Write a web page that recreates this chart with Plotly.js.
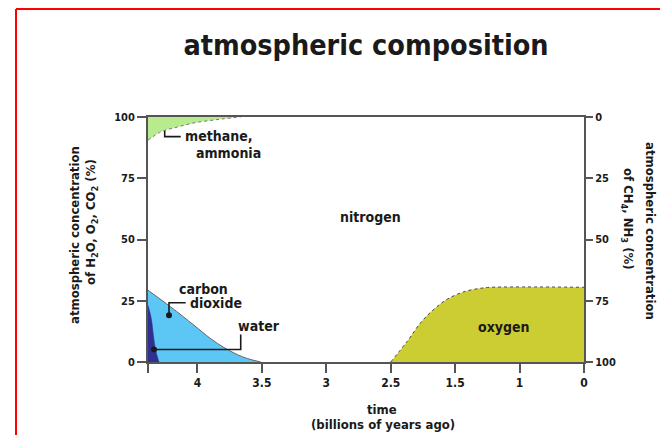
<!DOCTYPE html>
<html>
<head>
<meta charset="utf-8">
<script src="https://cdn.plot.ly/plotly-3.0.1.min.js"></script>
<style>
  html, body { margin: 0; padding: 0; background: #fff; }
  #chart { width: 660px; height: 435px; }
</style>
</head>
<body>
<div id="chart"></div>
<script>
// x values are positions along the (non-uniform) time axis; tick i sits at position i
const tickPos    = [-0.767, 0, 1, 2, 3, 4, 5, 6];
const tickLabels = ['', '4', '3.5', '3', '2.5', '1.5', '1', '0'];

// methane + ammonia (right axis, % CH4/NH3, measured downward from top)
const methaneX = [-0.767, -0.57, -0.311, -0.053, 0.207, 0.413, 0.672];
const methaneY = [9.5, 6.1, 4.1, 2.4, 1.4, 0.7, 0];

// carbon dioxide (left axis %)
const co2X = [-0.767, -0.415, -0.053, 0.207, 0.413, 0.621, 0.776, 0.983];
const co2Y = [29.3, 22.5, 15.0, 9.5, 5.9, 3.0, 1.4, 0];

// water (left axis %)
const waterX = [-0.767, -0.715, -0.683, -0.648, -0.596];
const waterY = [23.2, 17.7, 10.9, 4.8, 0];

// oxygen (left axis %)
const oxygenX = [3.0, 3.261, 3.467, 3.674, 3.882, 4.14, 4.399, 4.553, 6.0];
const oxygenY = [0, 8.6, 16.1, 21.6, 25.7, 28.7, 30.1, 30.5, 30.5];

// label leader lines (dot first)
const methanePtrX = [-0.508, -0.508, -0.259];
const methanePtrY = [97.8, 92.0, 92.0];
const co2PtrX = [-0.441, -0.441, -0.182];
const co2PtrY = [19.1, 24.2, 24.2];
const waterPtrX = [-0.674, 0.672, 0.672];
const waterPtrY = [5.1, 5.1, 11.2];

const yTicks = [0, 25, 50, 75, 100];
const y2Ticks = [0, 25, 50, 75, 100];

const FONT = 'Liberation Sans Narrow, DejaVu Sans Condensed, Arial Narrow, sans-serif';
const INK = '#1a1a1a';
const AXIS = '#555555';

function pointer(xs, ys) {
  return [
    { x: xs, y: ys, type: 'scatter', mode: 'lines', line: { color: INK, width: 1.6 },
      hoverinfo: 'skip', showlegend: false },
    { x: [xs[0]], y: [ys[0]], type: 'scatter', mode: 'markers',
      marker: { color: INK, size: 6 }, hoverinfo: 'skip', showlegend: false }
  ];
}

const traces = [
  { x: methaneX, y: methaneY, yaxis: 'y2', type: 'scatter', mode: 'lines', fill: 'tozeroy',
    fillcolor: '#b8ea8e', line: { color: '#777', width: 1, dash: 'dot', shape: 'spline' },
    hoverinfo: 'skip', showlegend: false },
  { x: co2X, y: co2Y, type: 'scatter', mode: 'lines', fill: 'tozeroy',
    fillcolor: '#5cc6f4', line: { color: '#666', width: 1, shape: 'spline' },
    hoverinfo: 'skip', showlegend: false },
  { x: waterX, y: waterY, type: 'scatter', mode: 'lines', fill: 'tozeroy',
    fillcolor: '#2e3192', line: { color: '#2e3192', width: 0.5, shape: 'spline' },
    hoverinfo: 'skip', showlegend: false },
  { x: oxygenX, y: oxygenY, type: 'scatter', mode: 'lines', fill: 'tozeroy',
    fillcolor: '#cccc33', line: { color: '#444', width: 1, dash: 'dot', shape: 'spline' },
    hoverinfo: 'skip', showlegend: false },
  ...pointer(methanePtrX, methanePtrY),
  ...pointer(co2PtrX, co2PtrY),
  ...pointer(waterPtrX, waterPtrY)
];

const lblFont = { family: FONT, size: 14, color: INK, weight: 'bold' };
function ann(text, x, y, xanchor, extra) {
  return Object.assign({ text, x, y, xref: 'x', yref: 'y', xanchor: xanchor || 'center',
    yanchor: 'middle', showarrow: false, font: lblFont }, extra || {});
}
function paperAnn(text, px, py, angle, size) {
  return { text, x: (px - 148) / 436, y: (362 - py) / 245, xref: 'paper', yref: 'paper',
    xanchor: 'center', yanchor: 'middle', showarrow: false, textangle: angle || 0,
    font: { family: FONT, size: size || 13, color: INK, weight: 'bold' } };
}

const layout = {
  width: 660, height: 435,
  margin: { l: 148, r: 76, t: 117, b: 73 },
  paper_bgcolor: '#fff', plot_bgcolor: '#fff',
  showlegend: false,
  title: { text: 'atmospheric composition', x: 0.5, xref: 'paper', xanchor: 'center',
    y: 1 - 45 / 435, yref: 'container', yanchor: 'middle',
    font: { family: FONT, size: 28.5, color: INK, weight: 'bold' } },
  xaxis: {
    range: [-0.767, 6], tickvals: tickPos, ticktext: tickLabels,
    ticks: 'outside', ticklen: 9, tickwidth: 2, tickcolor: AXIS,
    showline: true, mirror: true, linecolor: AXIS, linewidth: 2,
    showgrid: false, zeroline: false, fixedrange: true,
    tickfont: { family: FONT, size: 12, color: INK, weight: 'bold' }
  },
  yaxis: {
    range: [0, 100], tickvals: yTicks, ticktext: yTicks.map(String),
    ticks: 'outside', ticklen: 9, tickwidth: 2, tickcolor: AXIS,
    showline: true, linecolor: AXIS, linewidth: 2,
    showgrid: false, zeroline: false, fixedrange: true,
    tickfont: { family: FONT, size: 11, color: INK, weight: 'bold' }
  },
  yaxis2: {
    overlaying: 'y', side: 'right', range: [100, 0],
    tickvals: y2Ticks, ticktext: y2Ticks.map(String),
    ticks: 'outside', ticklen: 7, tickwidth: 2, tickcolor: AXIS,
    showline: true, linecolor: AXIS, linewidth: 2,
    showgrid: false, zeroline: false, fixedrange: true,
    tickfont: { family: FONT, size: 11, color: INK, weight: 'bold' }
  },
  annotations: [
    ann('methane,', -0.228, 92.4, 'left'),
    ann('ammonia', -0.057, 85.5, 'left'),
    ann('nitrogen', 2.691, 59.0),
    ann('carbon', -0.311, 30.0, 'left'),
    ann('dioxide', -0.14, 24.2, 'left'),
    ann('water', 0.595, 14.9, 'left'),
    ann('oxygen', 4.756, 14.1),
    paperAnn('time', 382, 409, 0, 13),
    paperAnn('(billions of years ago)', 383, 424, 0, 13),
    paperAnn('atmospheric concentration', 74, 235, -90, 13),
    paperAnn('of H<sub>2</sub>O, O<sub>2</sub>, CO<sub>2</sub> (%)', 91, 222, -90, 13),
    paperAnn('atmospheric concentration', 651, 231, 90, 13),
    paperAnn('of CH<sub>4</sub>, NH<sub>3</sub> (%)', 628, 219, 90, 13)
  ],
  shapes: [
    { type: 'line', xref: 'paper', yref: 'paper', x0: (16 - 148) / 436, x1: (662 - 148) / 436,
      y0: (362 - 9) / 245, y1: (362 - 9) / 245, line: { color: '#ff0000', width: 2 } },
    { type: 'line', xref: 'paper', yref: 'paper', x0: (16 - 148) / 436, x1: (16 - 148) / 436,
      y0: (362 - 9) / 245, y1: (362 - 437) / 245, line: { color: '#ff0000', width: 2 } }
  ]
};

Plotly.newPlot('chart', traces, layout, { staticPlot: true, displayModeBar: false });
</script>
</body>
</html>
